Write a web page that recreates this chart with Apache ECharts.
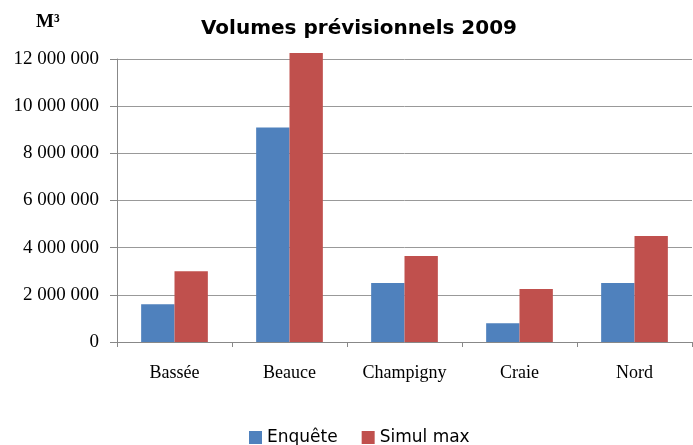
<!DOCTYPE html>
<html>
<head>
<meta charset="utf-8">
<script src="https://cdn.jsdelivr.net/npm/echarts@6/dist/echarts.min.js"></script>
<style>
  html, body { margin: 0; padding: 0; background: #fff; }
  #chart { width: 693px; height: 445px; }
</style>
</head>
<body>
<div id="chart"></div>
<script>
// données
var categories = ['Bassée', 'Beauce', 'Champigny', 'Craie', 'Nord'];
var enquete = [1600000, 9100000, 2500000, 800000, 2500000];
var simulMax = [3000000, 12250000, 3650000, 2250000, 4500000];

function fmt(v) {
  return String(v).replace(/\B(?=(\d{3})+(?!\d))/g, ' ');
}

var myChart = echarts.init(document.getElementById('chart'));
var option = {
  animation: false,
  title: {
    text: 'Volumes prévisionnels 2009',
    left: 354,
    textAlign: 'center',
    top: 14,
    textStyle: { fontFamily: 'DejaVu Sans', fontWeight: 'bold', fontSize: 20, color: '#000' }
  },
  graphic: [{
    type: 'text',
    left: 36,
    top: 13,
    style: { text: 'M³', font: 'bold 19px "Liberation Serif"', fill: '#000' }
  }],
  legend: {
    top: 424,
    left: 244,
    itemWidth: 13,
    itemHeight: 13,
    itemGap: 24,
    icon: 'rect',
    textStyle: { fontFamily: 'DejaVu Sans', fontSize: 17, color: '#000' }
  },
  grid: { left: 117, right: 1, top: 59, bottom: 103 },
  xAxis: {
    type: 'category',
    data: categories,
    axisLine: { lineStyle: { color: '#888', width: 1 } },
    axisTick: { show: true, length: 5, lineStyle: { color: '#888' } },
    axisLabel: { interval: 0, fontFamily: 'Liberation Serif', fontSize: 18, color: '#000', margin: 22 }
  },
  yAxis: {
    type: 'value',
    min: 0,
    max: 12000000,
    interval: 2000000,
    axisLine: { show: true, lineStyle: { color: '#888' } },
    axisTick: { show: true, inside: false, length: 7, lineStyle: { color: '#888' } },
    splitLine: { lineStyle: { color: '#999', width: 1 } },
    axisLabel: {
      fontFamily: 'Liberation Serif', fontSize: 19, color: '#000', margin: 18,
      formatter: function (v) { return fmt(v); }
    }
  },
  series: [
    {
      name: 'Enquête',
      type: 'bar',
      data: enquete,
      barGap: '0%',
      barCategoryGap: '42%',
      clip: false,
      itemStyle: { color: '#4f81bd' }
    },
    {
      name: 'Simul max',
      type: 'bar',
      data: simulMax,
      barGap: '0%',
      barCategoryGap: '42%',
      clip: false,
      itemStyle: { color: '#c0504d' }
    }
  ]
};
myChart.setOption(option);
window.addEventListener('resize', function () {
  myChart.resize();
});
</script>
</body>
</html>
